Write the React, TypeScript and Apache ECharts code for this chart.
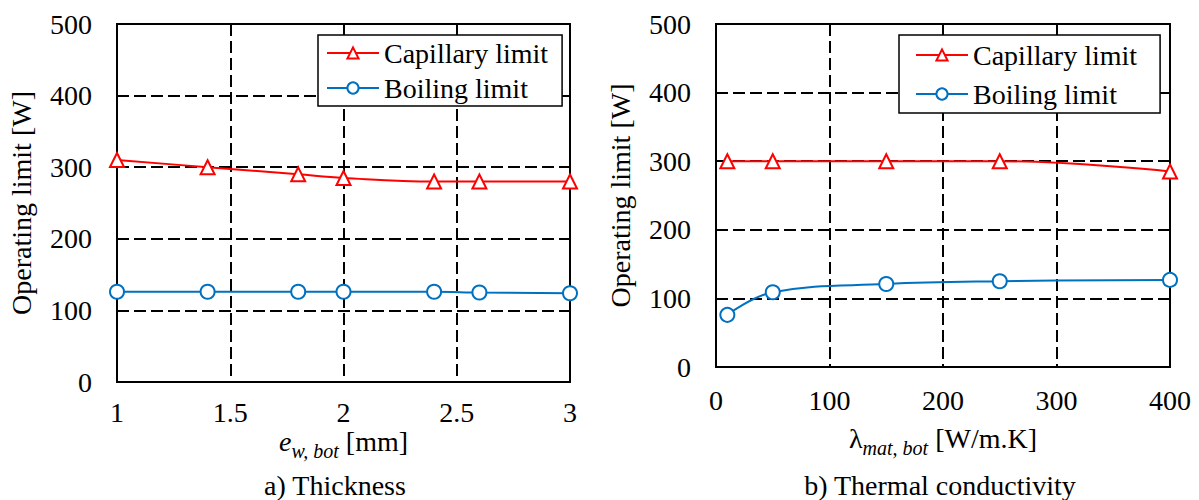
import React, { useEffect, useRef } from "react";
import * as echarts from "echarts";

const thickness = [1, 1.4, 1.8, 2, 2.4, 2.6, 3];
const capillaryByThickness = [310, 300, 290, 285, 280, 280, 280];
const boilingByThickness = [126, 126, 126, 126, 126, 125, 124];

const conductivity = [10, 50, 150, 250, 400];
const capillaryByConductivity = [300, 300, 300, 300, 285];
const boilingByConductivity = [76, 109, 121, 125, 127];

const seriesNames = ["Capillary limit", "Boiling limit"];
const captions = ["a) Thickness", "b) Thermal conductivity"];
const yAxisTitle = "Operating limit [W]";

const FONT = "Liberation Serif";
const FS = 28;
const RED = "#FF0000";
const BLUE = "#0070C0";

function zip(xs: number[], ys: number[]) {
  return xs.map((x, i) => [x, ys[i]]);
}

export default function App() {
  const ref = useRef<HTMLDivElement>(null);

  useEffect(() => {
    if (!ref.current) return;
    const chart = echarts.init(ref.current, undefined, { renderer: "svg" });

    const splitLine = {
      show: true,
      lineStyle: { color: "#000", type: [12, 5], width: 2 },
    };
    const axisLine = { show: true, lineStyle: { color: "#000", width: 2 } };
    const labelStyle = { fontSize: FS, color: "#000", fontFamily: FONT };

    const mainTok = {
      fontSize: FS,
      fontFamily: FONT,
      color: "#000",
      lineHeight: 22,
      padding: [0, 0, 10, 0],
    };
    const nameRich = {
      e: { ...mainTok, fontStyle: "italic" },
      l: { ...mainTok },
      sub: {
        fontSize: 20,
        fontStyle: "italic",
        fontFamily: FONT,
        color: "#000",
        lineHeight: 20,
        padding: [10, 0, 0, 0],
      },
      n: { ...mainTok },
    };

    const yAxisCommon = (gridIndex: number) => ({
      gridIndex,
      type: "value",
      min: 0,
      max: 500,
      interval: 100,
      axisLine,
      axisTick: { show: false },
      axisLabel: { ...labelStyle, margin: 25 },
      splitLine,
      name: yAxisTitle,
      nameLocation: "middle",
      nameGap: 82,
      nameMoveOverlap: false,
      nameTextStyle: { ...labelStyle },
    });

    const lineSeries = (
      name: string,
      xIdx: number,
      data: number[][],
      color: string,
      symbol: string
    ) => ({
      name,
      type: "line",
      xAxisIndex: xIdx,
      yAxisIndex: xIdx,
      data,
      smooth: 0.4,
      clip: false,
      symbol,
      symbolSize: 14,
      showAllSymbol: true,
      lineStyle: { color, width: 2 },
      itemStyle: { color, borderColor: color, borderWidth: 2 },
      z: 5,
    });

    const legendCommon = {
      orient: "vertical",
      backgroundColor: "#fff",
      borderColor: "#000",
      borderWidth: 1.5,
      borderRadius: 0,
      itemWidth: 52,
      itemHeight: 14,
      textStyle: { ...labelStyle },
      data: seriesNames,
      z: 10,
    };

    chart.setOption({
      animation: false,
      backgroundColor: "#fff",
      grid: [
        {
          left: 117,
          top: 24,
          width: 453,
          height: 358,
          show: true,
          borderColor: "#000",
          borderWidth: 2,
          backgroundColor: "transparent",
        },
        {
          left: 716,
          top: 24,
          width: 454,
          height: 343,
          show: true,
          borderColor: "#000",
          borderWidth: 2,
          backgroundColor: "transparent",
        },
      ],
      xAxis: [
        {
          gridIndex: 0,
          type: "value",
          min: 1,
          max: 3,
          interval: 0.5,
          axisLine,
          axisTick: { show: false },
          axisLabel: { ...labelStyle, lineHeight: 20, margin: 20 },
          splitLine,
          name: "{e|e}{sub|w, bot}{n| [mm]}",
          nameLocation: "middle",
          nameGap: 53,
          nameMoveOverlap: false,
          nameTextStyle: { rich: nameRich },
        },
        {
          gridIndex: 1,
          type: "value",
          min: 0,
          max: 400,
          interval: 100,
          axisLine,
          axisTick: { show: false },
          axisLabel: { ...labelStyle, lineHeight: 20, margin: 23 },
          splitLine,
          name: "{l|λ}{sub|mat, bot}{n| [W/m.K]}",
          nameLocation: "middle",
          nameGap: 65,
          nameMoveOverlap: false,
          nameTextStyle: { rich: nameRich },
        },
      ],
      yAxis: [yAxisCommon(0), yAxisCommon(1)],
      legend: [
        {
          ...legendCommon,
          left: 318,
          top: 35,
          itemGap: 7,
          padding: [4, 14, 4, 8],
        },
        {
          ...legendCommon,
          left: 899,
          top: 35,
          itemGap: 11,
          padding: [6, 23, 5, 16],
        },
      ],
      series: [
        lineSeries(seriesNames[0], 0, zip(thickness, capillaryByThickness), RED, "emptyTriangle"),
        lineSeries(seriesNames[1], 0, zip(thickness, boilingByThickness), BLUE, "emptyCircle"),
        lineSeries(seriesNames[0], 1, zip(conductivity, capillaryByConductivity), RED, "emptyTriangle"),
        lineSeries(seriesNames[1], 1, zip(conductivity, boilingByConductivity), BLUE, "emptyCircle"),
      ],
      graphic: [
        {
          type: "text",
          x: 335,
          y: 485,
          style: {
            text: captions[0],
            fontSize: FS,
            fontFamily: FONT,
            fill: "#000",
            textAlign: "center",
            textVerticalAlign: "middle",
          },
        },
        {
          type: "text",
          x: 940,
          y: 485,
          style: {
            text: captions[1],
            fontSize: FS,
            fontFamily: FONT,
            fill: "#000",
            textAlign: "center",
            textVerticalAlign: "middle",
          },
        },
      ],
    });

    return () => chart.dispose();
  }, []);

  return (
    <div
      ref={ref}
      style={{ position: "fixed", left: 0, top: 0, width: 1199, height: 500 }}
    />
  );
}
